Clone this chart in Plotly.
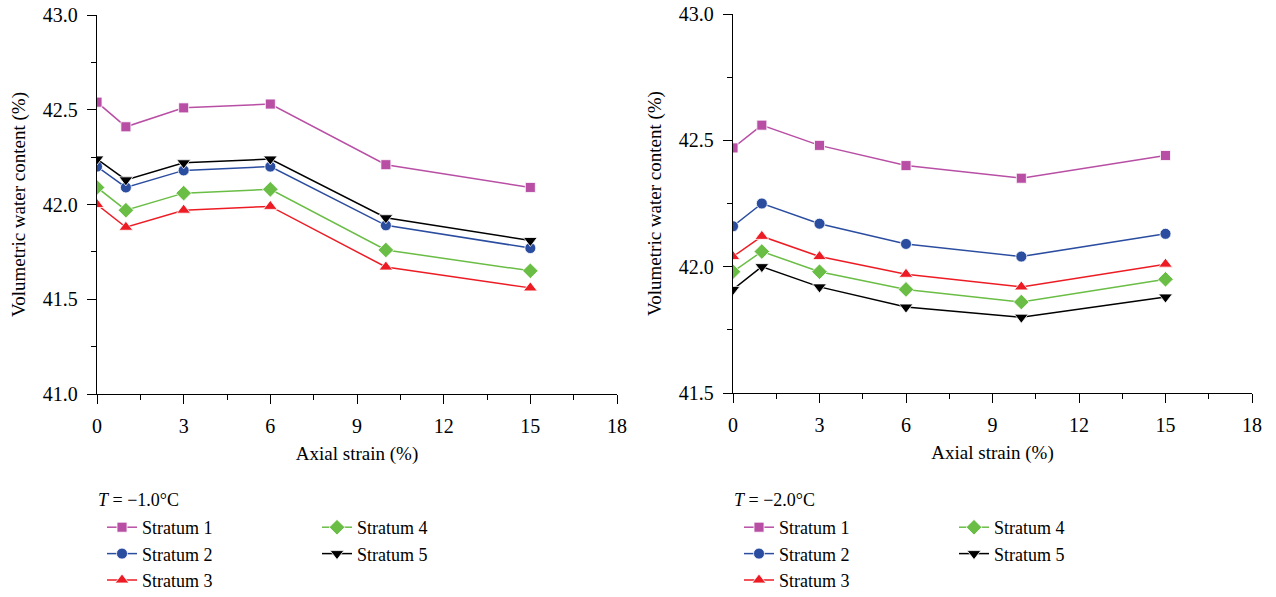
import plotly.graph_objects as go

strain = [0, 1, 3, 6, 10, 15]
names = ["Stratum 1", "Stratum 2", "Stratum 3", "Stratum 4", "Stratum 5"]

left_vals = [
    [42.54, 42.41, 42.51, 42.53, 42.21, 42.09],
    [42.20, 42.09, 42.18, 42.20, 41.89, 41.77],
    [42.00, 41.88, 41.97, 41.99, 41.67, 41.56],
    [42.09, 41.97, 42.06, 42.08, 41.76, 41.65],
    [42.24, 42.13, 42.22, 42.24, 41.93, 41.81],
]
right_vals = [
    [42.47, 42.56, 42.48, 42.40, 42.35, 42.44],
    [42.16, 42.25, 42.17, 42.09, 42.04, 42.13],
    [42.04, 42.12, 42.04, 41.97, 41.92, 42.01],
    [41.98, 42.06, 41.98, 41.91, 41.86, 41.95],
    [41.91, 42.00, 41.92, 41.84, 41.80, 41.88],
]
titles = ["<i>T</i> = −1.0°C", "<i>T</i> = −2.0°C"]

colors = ["#B84FA5", "#2B4DA0", "#ED1C24", "#6ABD45", "#000000"]
symbols = ["square", "circle", "triangle-up", "diamond", "triangle-down"]
sizes = [10, 11, 12, 12, 12]

FONT = "Liberation Serif"
fig = go.Figure()

for p, vals in enumerate([left_vals, right_vals]):
    xa = "x" if p == 0 else "x2"
    ya = "y" if p == 0 else "y2"
    for i, (nm, v) in enumerate(zip(names, vals)):
        leg_idx = p * 2 + (0 if i < 3 else 1)
        leg = "legend" if leg_idx == 0 else f"legend{leg_idx + 1}"
        fig.add_trace(go.Scatter(
            x=strain, y=v, name=nm, mode="lines+markers",
            line=dict(color=colors[i], width=1.5),
            marker=dict(symbol=symbols[i], size=sizes[i], color=colors[i],
                        line=dict(width=0.8, color="white")),
            xaxis=xa, yaxis=ya, legend=leg,
        ))

W, H = 1276, 597
def px_x(v):
    return v / W
def px_y(v):
    return 1 - v / H

axis_common = dict(
    showline=True, linecolor="black", linewidth=1.3, mirror=False,
    ticks="outside", ticklen=9, tickwidth=1.3, tickcolor="black",
    ticklabelstandoff=5, ticklabeloverflow="allow",
    showgrid=False, zeroline=False, automargin=False,
    tickfont=dict(family=FONT, size=20, color="black"),
)
minor_x = dict(dtick=1.5, ticks="outside", ticklen=5, tickcolor="black", tickwidth=1.3)
minor_y = dict(dtick=0.25, ticks="outside", ticklen=5, tickcolor="black", tickwidth=1.3)
xtitle = dict(text="Axial strain (%)", font=dict(family=FONT, size=19), standoff=10)
ytitle = dict(text="Volumetric water content (%)", font=dict(family=FONT, size=19), standoff=12)

layout = dict(
    width=W, height=H, margin=dict(l=0, r=0, t=0, b=0, autoexpand=False),
    plot_bgcolor="white", paper_bgcolor="white",
    font=dict(family=FONT, size=19, color="black"),
)
layout["xaxis"] = dict(axis_common, domain=[px_x(97), px_x(617)], range=[0, 18],
                       dtick=3, anchor="y", minor=minor_x, title=xtitle)
layout["yaxis"] = dict(axis_common, domain=[px_y(394), px_y(15)], range=[41.0, 43.0],
                       dtick=0.5, tickformat=".1f", anchor="x", minor=minor_y, title=ytitle)
layout["xaxis2"] = dict(axis_common, domain=[px_x(733), px_x(1252)], range=[0, 18],
                        dtick=3, anchor="y2", minor=minor_x, title=xtitle)
layout["yaxis2"] = dict(axis_common, domain=[px_y(393), px_y(14)], range=[41.5, 43.0],
                        dtick=0.5, tickformat=".1f", anchor="x2", minor=minor_y, title=ytitle)

leg_common = dict(xanchor="left", yanchor="top", bgcolor="rgba(0,0,0,0)",
                  font=dict(family=FONT, size=18, color="black"),
                  tracegroupgap=0, itemclick=False, orientation="v")
leg_pos = [(102, 509), (317, 509), (739, 509), (954, 509)]
for k, (lx, ly) in enumerate(leg_pos):
    key = "legend" if k == 0 else f"legend{k + 1}"
    layout[key] = dict(leg_common, x=px_x(lx), y=px_y(ly))

fig.update_layout(**layout)

for k, t in enumerate(titles):
    fig.add_annotation(text=t, x=px_x(96 if k == 0 else 732), y=px_y(500),
                       xref="paper", yref="paper", xanchor="left", yanchor="middle",
                       showarrow=False, font=dict(family=FONT, size=18, color="black"))

fig.write_html("out.html", config={"displayModeBar": False},
               post_script="document.body.style.margin='0px';document.body.style.padding='0px';")
